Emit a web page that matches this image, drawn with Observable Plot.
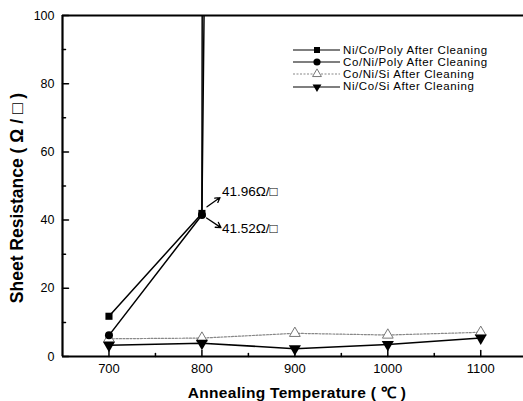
<!DOCTYPE html>
<html>
<head>
<meta charset="utf-8">
<script src="https://cdn.jsdelivr.net/npm/d3@7"></script>
<script src="https://cdn.jsdelivr.net/npm/@observablehq/plot@0.6"></script>
<style>
  html, body { margin: 0; padding: 0; background: #fff; }
  #wrap { position: relative; width: 523px; height: 401px; overflow: hidden; font-family: "Liberation Sans", Arial, sans-serif; }
  #legend { position: absolute; left: 293px; top: 44px; font-size: 11.5px; color: #000; letter-spacing: 0.6px; }
  #legend .row { display: flex; align-items: center; height: 12.2px; line-height: 11px; white-space: nowrap; }
  #legend svg { display: block; margin-right: 3px; }
  .xtitle { position: absolute; left: 297px; top: 392px; transform: translate(-50%, -50%); font-weight: bold; font-size: 15.5px; letter-spacing: 0.3px; white-space: nowrap; }
  .ytitle { position: absolute; left: 17px; top: 198px; transform: translate(-50%, -50%) rotate(-90deg); font-weight: bold; font-size: 17.5px; white-space: nowrap; }
  g[aria-label="annotation"] text { letter-spacing: 0.6px; }
</style>
</head>
<body>
<div id="wrap"><div id="chart"></div><div id="legend"></div><div class="xtitle" id="xt"></div><div class="ytitle" id="yt"></div></div>
<script>
// ---- data ----
const seriesNames = ["Ni/Co/Poly After Cleaning", "Co/Ni/Poly After Cleaning", "Co/Ni/Si After Cleaning", "Ni/Co/Si After Cleaning"];
const polyTemps = [700, 800, 900];
const niCoPoly = [11.8, 41.96, 20000];   // 900 °C value far off-scale (line leaves the chart)
const coNiPoly = [6.2, 41.52, 2600];
const siTemps = [700, 800, 900, 1000, 1100];
const coNiSi = [5.2, 5.4, 6.8, 6.3, 7.1];
const niCoSi = [3.3, 3.9, 2.3, 3.5, 5.4];
const xMajorTicks = [700, 800, 900, 1000, 1100];
const xMinorTicks = [750, 850, 950, 1050];
const yMajorTicks = [0, 20, 40, 60, 80, 100];
const yMinorTicks = [10, 30, 50, 70, 90];
const annotations = [
  {label: "41.96Ω/□", x1: 805.5, y1: 43.9, x2: 819.5, y2: 46.6, tx: 821.5, ty: 48.2},
  {label: "41.52Ω/□", x1: 805, y1: 40.6, x2: 820.5, y2: 37.8, tx: 821.5, ty: 37.4}
];
const xLabel = "Annealing Temperature ( \u2103  )";
const yLabel = "Sheet Resistance ( Ω / □ )";

// ---- build table ----
const rows = [];
polyTemps.forEach((t, i) => rows.push({series: seriesNames[0], t, r: niCoPoly[i]}));
polyTemps.forEach((t, i) => rows.push({series: seriesNames[1], t, r: coNiPoly[i]}));
siTemps.forEach((t, i) => rows.push({series: seriesNames[2], t, r: coNiSi[i]}));
siTemps.forEach((t, i) => rows.push({series: seriesNames[3], t, r: niCoSi[i]}));
const of = (k) => rows.filter(d => d.series === seriesNames[k]);

const tickShape = {draw(ctx, l) { ctx.moveTo(0, 0); ctx.lineTo(0, -l); }};

const chart = Plot.plot({
  width: 523,
  height: 401,
  marginLeft: 62,
  marginRight: 0,
  marginTop: 15,
  marginBottom: 45,
  style: {fontFamily: "'Liberation Sans', Arial, sans-serif", fontSize: "12px", color: "#000", background: "#fff"},
  x: {domain: [650, 1146]},
  y: {domain: [0, 100]},
  marks: [
    Plot.axisX({ticks: xMajorTicks, tickFormat: d3.format("d"), tickSize: 0, tickPadding: 7, label: null, fontSize: 13}),
    Plot.axisY({ticks: yMajorTicks, tickSize: 0, tickPadding: 8, label: null, fontSize: 12.5}),
    // inward ticks
    Plot.vector(xMajorTicks, {x: d => d, frameAnchor: "bottom", length: 6, rotate: 0, anchor: "start", shape: tickShape, strokeWidth: 1.5}),
    Plot.vector(xMinorTicks, {x: d => d, frameAnchor: "bottom", length: 3, rotate: 0, anchor: "start", shape: tickShape, strokeWidth: 1.5}),
    Plot.vector(yMajorTicks, {y: d => d, frameAnchor: "left", length: 6, rotate: 90, anchor: "start", shape: tickShape, strokeWidth: 1.5}),
    Plot.vector(yMinorTicks, {y: d => d, frameAnchor: "left", length: 3, rotate: 90, anchor: "start", shape: tickShape, strokeWidth: 1.5}),
    // frame
    Plot.ruleY([0], {strokeWidth: 2.2}),
    Plot.ruleY([100], {strokeWidth: 2}),
    Plot.ruleX([650], {strokeWidth: 2.2}),
    // series lines
    Plot.line(of(2), {x: "t", y: "r", stroke: "#888", strokeWidth: 1.2, strokeDasharray: "2,1.5", clip: true}),
    Plot.line(of(3), {x: "t", y: "r", stroke: "#000", strokeWidth: 1.5, clip: true}),
    Plot.line(of(0), {x: "t", y: "r", stroke: "#000", strokeWidth: 1.5, clip: true}),
    Plot.line(of(1), {x: "t", y: "r", stroke: "#000", strokeWidth: 1.5, clip: true}),
    // markers
    Plot.dot(of(2), {x: "t", y: "r", symbol: "triangle", r: 4, stroke: "#777", fill: "#fff", strokeWidth: 1, clip: true}),
    Plot.dot(of(3), {x: "t", y: "r", symbol: "triangle", rotate: 180, r: 4.5, fill: "#000", stroke: "none", clip: true}),
    Plot.dot(of(0), {x: "t", y: "r", symbol: "square", r: 4, fill: "#000", stroke: "none", clip: true}),
    Plot.dot(of(1), {x: "t", y: "r", symbol: "circle", r: 4, fill: "#000", stroke: "none", clip: true}),
    // annotations
    Plot.arrow(annotations, {x1: "x1", y1: "y1", x2: "x2", y2: "y2", stroke: "#000", strokeWidth: 1.3, headLength: 7}),
    Plot.text(annotations, {x: "tx", y: "ty", text: "label", textAnchor: "start", fontSize: 13.5, fill: "#000", ariaLabel: "annotation"})
  ]
});
document.getElementById("chart").appendChild(chart);
document.getElementById("xt").textContent = xLabel;
document.getElementById("yt").textContent = yLabel;

// ---- legend ----
const legend = d3.select("#legend");
const legendStyles = [
  {stroke: "#000", dash: null, sym: "square", fill: "#000", mstroke: "none"},
  {stroke: "#000", dash: null, sym: "circle", fill: "#000", mstroke: "none"},
  {stroke: "#888", dash: "2,1.5", sym: "triangle", fill: "#fff", mstroke: "#777"},
  {stroke: "#000", dash: null, sym: "triangleDown", fill: "#000", mstroke: "none"}
];
seriesNames.forEach((name, i) => {
  const s = legendStyles[i];
  const row = legend.append("div").attr("class", "row");
  const svg = row.append("svg").attr("width", 47).attr("height", 12);
  svg.append("line").attr("x1", 0).attr("x2", 47).attr("y1", 6).attr("y2", 6)
    .attr("stroke", s.stroke).attr("stroke-width", 1.2).attr("stroke-dasharray", s.dash);
  let path;
  if (s.sym === "square") path = d3.symbol(d3.symbolSquare, 36)();
  else if (s.sym === "circle") path = d3.symbol(d3.symbolCircle, 40)();
  else path = d3.symbol(d3.symbolTriangle, 34)();
  svg.append("path").attr("d", path)
    .attr("transform", `translate(24,6)${s.sym === "triangleDown" ? " rotate(180)" : ""}`)
    .attr("fill", s.fill).attr("stroke", s.mstroke);
  row.append("span").text(name);
});
</script>
</body>
</html>
